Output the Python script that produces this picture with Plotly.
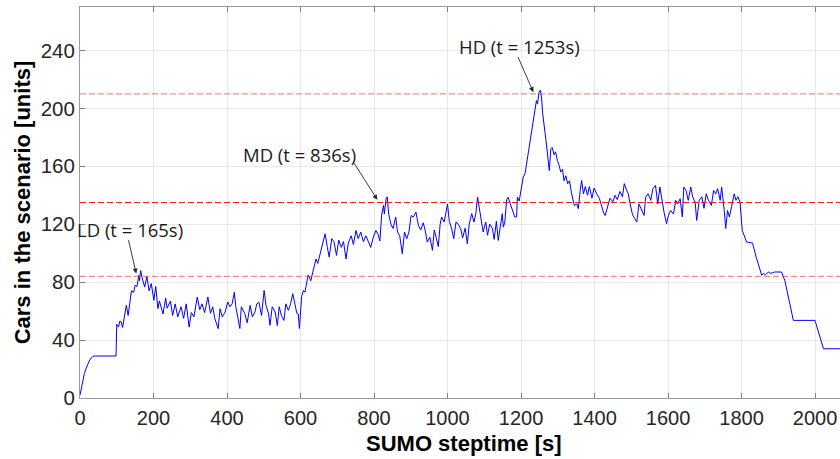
import plotly.graph_objects as go

# Simulation step time [s] and number of cars present in the scenario
steptime = [
    0, 4, 8, 12, 16, 20, 25, 30, 35, 40, 98,
    100, 105, 108, 112, 116, 122, 126, 131, 135, 140, 146, 150, 155, 160, 162, 165,
    169, 172, 176, 182, 188, 194, 201, 206, 212, 216, 226, 233, 237, 246, 252, 259,
    266, 275, 282, 289, 297, 303, 310, 319, 326, 332, 339, 348, 355, 361,
    367, 376, 381, 387, 395, 402, 408, 414, 420, 424, 431, 435, 439, 448, 455, 463,
    469, 476, 481, 487, 494, 501, 506, 513, 517, 523, 531, 537, 542, 548, 555, 560,
    567, 573, 579, 585, 590, 594, 597,
    603, 608, 612, 617, 621, 628, 635, 642, 647, 653, 659, 667, 673, 678, 685, 691,
    698, 704, 711, 717, 724, 730, 738, 744, 751, 757, 764, 771, 778, 785, 791, 798,
    805, 811, 816, 821, 826, 828, 833, 836, 840, 846, 852, 859, 864, 870, 877, 883,
    889, 895, 901, 907, 914, 921, 927, 934,
    939, 945, 952, 959, 964, 970, 975, 980, 984, 991, 996, 1000, 1005, 1011, 1017,
    1023, 1029, 1036, 1041, 1048, 1054, 1059, 1066, 1072, 1077, 1082, 1086, 1093,
    1097, 1104, 1109, 1115, 1122, 1127, 1133, 1138, 1144, 1149, 1152, 1156, 1161,
    1165, 1171, 1177, 1183, 1188, 1190, 1195, 1200, 1206, 1211, 1215, 1220, 1224,
    1229, 1233, 1238, 1242, 1245, 1249, 1253, 1256, 1259, 1264, 1268, 1273, 1277,
    1281, 1285, 1290, 1294, 1299, 1304, 1308, 1313, 1317, 1322, 1327, 1332, 1337,
    1341, 1345, 1352, 1356, 1361, 1365, 1370, 1375, 1381, 1386, 1393, 1399, 1406,
    1413, 1420, 1424, 1429, 1435, 1442, 1450, 1456, 1462, 1469, 1476, 1481, 1488,
    1492, 1497, 1503, 1509, 1515, 1521, 1528, 1535, 1539, 1546, 1553, 1559, 1566,
    1572, 1578, 1583, 1589, 1596, 1601, 1607, 1615, 1621, 1626, 1633, 1639, 1643,
    1649, 1655, 1662, 1667, 1674, 1678, 1685, 1692, 1698, 1704, 1710, 1718, 1724,
    1730, 1735, 1742, 1746, 1753, 1757, 1762, 1767, 1773, 1780, 1785, 1790, 1796,
    1802, 1814, 1830, 1840, 1855, 1860, 1865, 1873, 1880, 1890, 1909, 1918, 1937,
    1941, 2000, 2023, 2068,
]
cars = [
    2, 8, 13, 17, 20, 23, 25.5, 27.5, 28.8, 29, 29,
    50.9, 49, 53, 52.5, 48.7, 58, 64, 57, 65, 74, 73, 77.8, 77, 84.7, 81, 88,
    83, 80, 76.6, 84, 74, 79, 67.4, 77, 61.7, 67, 58, 69, 62, 67, 57, 65,
    56, 63, 55, 65, 49, 59, 56, 69.7, 61, 65, 59, 69.7, 58.5, 63,
    54.8, 47.9, 61.6, 56, 59.4, 66.3, 63, 65, 73, 63, 53.6, 48, 63, 58.5, 52, 64,
    56, 59.4, 65, 66, 57, 74.3, 64, 58.5, 50.2, 63, 59.4, 50, 63, 57, 53.6, 65,
    60.5, 65, 72, 65, 58.5, 58, 48,
    70, 74.3, 73, 81, 85, 81, 89.3, 96, 93, 99.6, 106.5, 113.4, 104, 97.3, 110, 108,
    98.5, 109, 104, 108, 96, 107, 112, 106, 115.7, 110, 114.6, 108, 112, 107, 104, 111,
    115.7, 113, 108.5, 127, 133, 127, 137.6, 139, 127, 120, 117, 125, 114.6, 112, 99.6, 114.6,
    110, 114.6, 126, 125, 128.4, 119, 116, 121,
    116, 107.7, 111, 102, 116, 110, 104.5, 120, 125, 121.5, 129.5, 134, 122, 117.3, 110,
    121.5, 120, 117, 110.5, 117.3, 106.5, 120, 127.3, 121.5, 127.3, 138.7, 132, 120,
    114.6, 121.5, 112.4, 120, 117.3, 109.5, 122, 108.8, 120, 127.3, 118, 121.5, 137,
    138.7, 134, 129.5, 125, 125, 138.7, 136, 143.3, 152.5, 155, 161.8, 170, 177.8,
    184.7, 191.6, 200.8, 205.4, 203, 211.2, 212.5, 207, 196.3, 187, 177.8, 166.3, 157,
    172, 173, 168, 170, 164, 160.5, 156, 158, 150, 153.5, 148, 150, 142,
    137.7, 133, 134, 130.7, 143.3, 150.2, 141, 146, 140, 146, 138, 145, 141,
    138, 132, 128.4, 126, 132, 138, 135.5, 140, 137, 142.6, 139, 148, 143,
    141, 134, 127, 124, 121.5, 134, 129.5, 126, 138.7, 141, 136.5, 144.6, 146.8,
    134, 145.7, 136.5, 128.4, 120.3, 126, 129.5, 127, 136.5, 134, 137.6, 125, 145.7,
    143.3, 136.5, 145.7, 139, 135, 122.6, 136.5, 139, 131, 141, 136.5, 133, 143.3,
    141, 144.6, 136.5, 145.7, 129.5, 117, 129.5, 125, 132, 141, 136.5, 139, 135.3,
    115.7, 107.7, 107, 97.3, 84.7, 86, 85, 87, 86, 87, 87, 81, 59.4,
    53.6, 53.6, 34, 34,
]

# Demand reference levels (low, medium, high)
demand_levels = [84, 135, 210]
demand_colors = ["rgba(255,60,60,0.6)", "rgba(255,0,0,0.9)", "rgba(255,60,60,0.6)"]

# Peak labels: text, text position, arrow tail, arrow tip
peak_labels = ["LD (t = 165s)", "MD (t = 836s)", "HD (t = 1253s)"]
label_x = [137, 596, 1195]
label_y = [116.4, 168.2, 243]
tail_x = [131, 744, 1190]
tail_y = [110, 163, 236.5]
tip_x = [153, 809, 1233.5]
tip_y = [85.9, 136.9, 211.2]

x_ticks = [0, 200, 400, 600, 800, 1000, 1200, 1400, 1600, 1800, 2000]
y_ticks = [0, 40, 80, 120, 160, 200, 240]

fig = go.Figure()
fig.add_trace(go.Scatter(
    x=steptime, y=cars, mode="lines",
    line=dict(color="#0000ff", width=1),
    showlegend=False, hoverinfo="skip",
))

for lvl, col in zip(demand_levels, demand_colors):
    fig.add_shape(type="line", xref="x domain", yref="y", x0=0, x1=1, y0=lvl, y1=lvl,
                  line=dict(color=col, width=1.2, dash="6px,3px"))

annotations = []
for txt, lx, ly, ax_, ay_, px, py in zip(peak_labels, label_x, label_y, tail_x, tail_y, tip_x, tip_y):
    annotations.append(dict(x=lx, y=ly, xref="x", yref="y", text=txt, showarrow=False,
                            font=dict(family="Open Sans", size=18.5, color="#1a1a1a"),
                            xanchor="center", yanchor="middle"))
    annotations.append(dict(x=px, y=py, ax=ax_, ay=ay_, xref="x", yref="y", axref="x", ayref="y",
                            text="", showarrow=True, arrowhead=2, arrowsize=1.1, arrowwidth=0.9,
                            arrowcolor="#262626", standoff=0, startstandoff=0))

# x-axis title, centred at pixel (464, 443) of the 840x459 canvas
annotations.append(dict(x=(464 - 80) / 760, y=-(443 - 398) / 391, xref="paper", yref="paper",
                        text="<b>SUMO steptime [s]</b>", showarrow=False,
                        xanchor="center", yanchor="middle",
                        font=dict(family="Liberation Sans", size=22, color="#000000")))

fig.update_layout(
    annotations=annotations,
    width=840, height=459,
    margin=dict(l=80, r=0, t=7, b=61),
    paper_bgcolor="white", plot_bgcolor="white",
    font=dict(family="Liberation Sans", color="#262626"),
    xaxis=dict(
        range=[0, 2068], tickvals=x_ticks, ticks="inside", ticklen=5, tickcolor="#808080",
        showline=True, linecolor="#9a9a9a", linewidth=1, mirror="ticks",
        showgrid=True, gridcolor="#e8e8e8", gridwidth=1, zeroline=False,
        tickfont=dict(size=20, color="#262626"), ticklabelstandoff=2,
    ),
    yaxis=dict(
        range=[0, 270], tickvals=y_ticks, ticks="inside", ticklen=5, tickcolor="#808080",
        showline=True, linecolor="#9a9a9a", linewidth=1, mirror=False,
        showgrid=True, gridcolor="#e8e8e8", gridwidth=1, zeroline=False,
        tickfont=dict(size=20.5, color="#262626"),
        title=dict(text="<b>Cars in the scenario [units]</b>", standoff=3,
                   font=dict(family="Liberation Sans", size=22, color="#000000")),
    ),
)

fig.write_html("out.html")
